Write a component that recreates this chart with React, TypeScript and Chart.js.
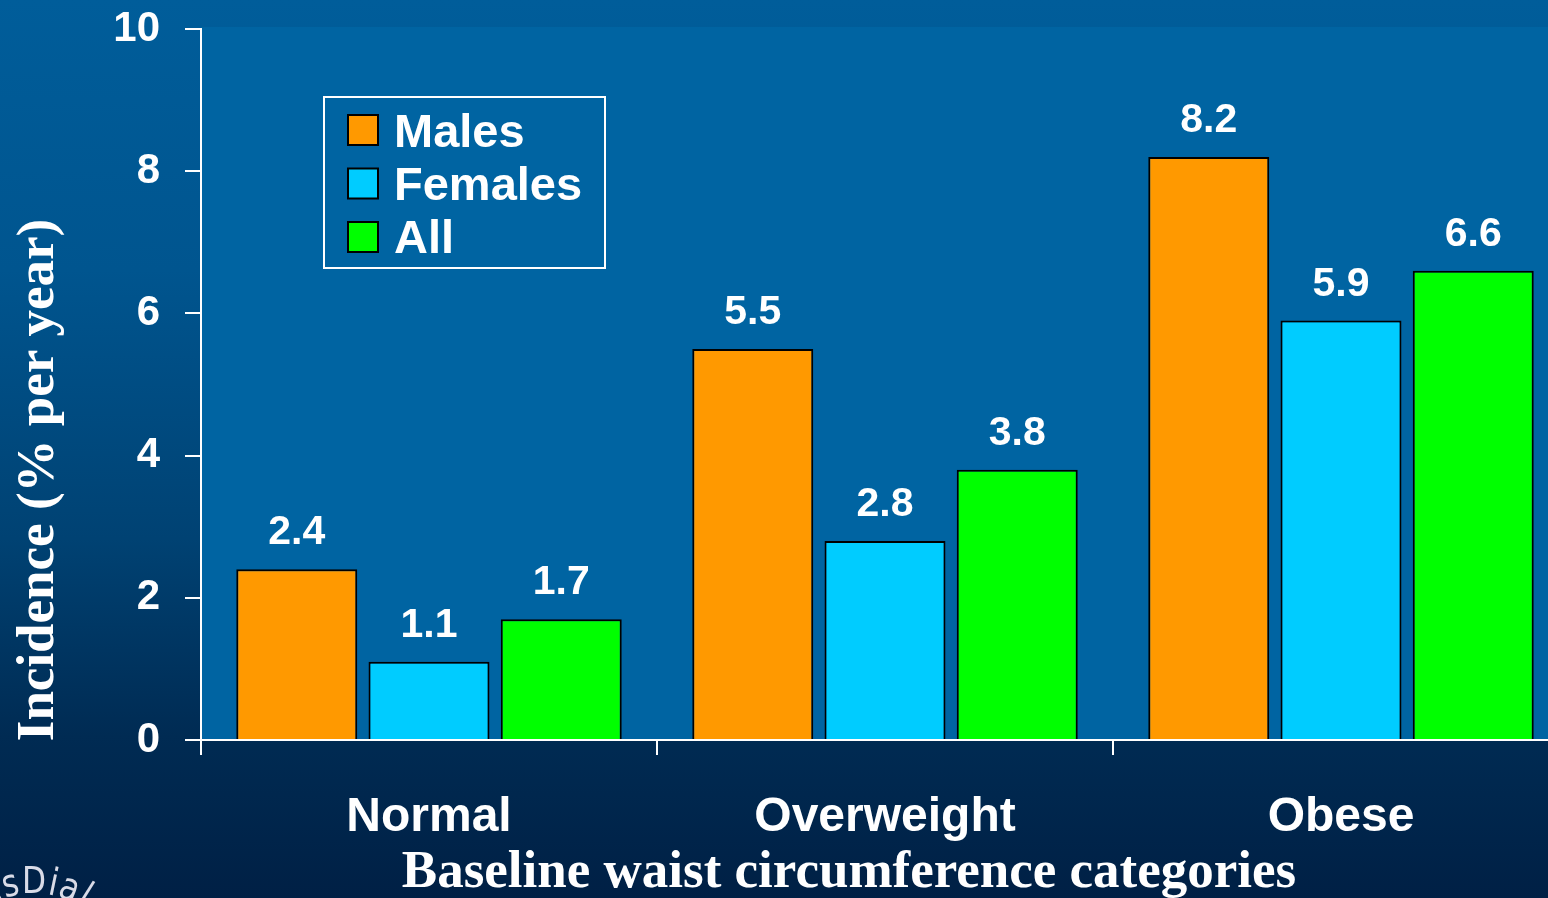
import React, { useEffect, useRef } from "react";
import { Chart, registerables } from "chart.js";

Chart.register(...registerables);

// Incidence (% per year) by baseline waist circumference category
const categories = ["Normal", "Overweight", "Obese"];
const seriesNames = ["Males", "Females", "All"];
const malesValues = [2.4, 5.5, 8.2];
const femalesValues = [1.1, 2.8, 5.9];
const allValues = [1.7, 3.8, 6.6];
const seriesColors = ["#ff9900", "#00ccff", "#00ff00"];
const yMin = 0;
const yMax = 10;
const yStep = 2;
const yTitle = "Incidence (% per year)";
const xTitle = "Baseline waist circumference categories";
const watermark = "asDial";

const SANS = "'Liberation Sans', Arial, sans-serif";
const SERIF = "'Liberation Serif', 'Times New Roman', serif";

const CANVAS_W = 1600;
const CANVAS_H = 898;

// Slide background, plot panel fill
const backgroundPlugin = {
  id: "slideBackground",
  beforeDraw(chart: any) {
    const { ctx, chartArea } = chart;
    ctx.save();
    const g = ctx.createLinearGradient(0, 0, 0, CANVAS_H);
    g.addColorStop(0, "#005d9a");
    g.addColorStop(0.3, "#00558f");
    g.addColorStop(0.6, "#004273");
    g.addColorStop(0.82, "#002b53");
    g.addColorStop(1, "#002045");
    ctx.fillStyle = g;
    ctx.fillRect(0, 0, CANVAS_W, CANVAS_H);
    ctx.fillStyle = "#0064a2";
    ctx.fillRect(
      chartArea.left,
      chartArea.top - 2,
      chartArea.right - chartArea.left,
      chartArea.bottom - chartArea.top + 2
    );
    ctx.restore();
  },
};

// Value labels above each bar
const valueLabelPlugin = {
  id: "valueLabels",
  afterDatasetsDraw(chart: any) {
    const { ctx } = chart;
    ctx.save();
    ctx.fillStyle = "#ffffff";
    ctx.font = `bold 41px ${SANS}`;
    ctx.textAlign = "center";
    ctx.textBaseline = "alphabetic";
    chart.data.datasets.forEach((ds: any, i: number) => {
      const meta = chart.getDatasetMeta(i);
      meta.data.forEach((bar: any, j: number) => {
        ctx.fillText(ds.data[j].toFixed(1), bar.x, bar.y - 25);
      });
    });
    ctx.restore();
  },
};

// Boxed legend inside the plot, axis titles and corner logo text
const decorPlugin = {
  id: "decor",
  afterDraw(chart: any) {
    const { ctx } = chart;
    ctx.save();

    // legend box
    ctx.strokeStyle = "#ffffff";
    ctx.lineWidth = 2;
    ctx.strokeRect(324, 97, 281, 171);
    chart.data.datasets.forEach((ds: any, i: number) => {
      const top = 115 + i * 53.5;
      ctx.fillStyle = ds.backgroundColor;
      ctx.fillRect(348, top, 30, 30);
      ctx.strokeStyle = "#000000";
      ctx.lineWidth = 2;
      ctx.strokeRect(348, top, 30, 30);
      ctx.fillStyle = "#ffffff";
      ctx.font = `bold 47px ${SANS}`;
      ctx.textAlign = "left";
      ctx.textBaseline = "alphabetic";
      ctx.fillText(ds.label, 394, 147 + i * 53);
    });

    // y axis title
    ctx.fillStyle = "#ffffff";
    ctx.font = `bold 53px ${SERIF}`;
    ctx.textAlign = "center";
    ctx.textBaseline = "alphabetic";
    ctx.save();
    ctx.translate(53, 480);
    ctx.rotate(-Math.PI / 2);
    ctx.fillText(yTitle, 0, 0);
    ctx.restore();

    // x axis title
    ctx.fillText(xTitle, 849, 887);

    // logo text on an arc, bottom-left corner
    ctx.fillStyle = "rgba(235,235,245,0.92)";
    ctx.font = `38px 'DejaVu Sans', 'Liberation Sans', sans-serif`;
    ctx.textAlign = "center";
    ctx.textBaseline = "alphabetic";
    const sx = 0.82;
    const cx = 34;
    const r = 84;
    const cy = 893 + r;
    const chars = watermark.split("");
    const widths = chars.map((c) => ctx.measureText(c).width * sx + 1);
    // 'D' centred at the top of the arc
    let s = -(widths[0] + widths[1] + widths[2] / 2);
    chars.forEach((c, k) => {
      const mid = s + widths[k] / 2;
      const th = mid / r;
      ctx.save();
      ctx.translate(cx + r * Math.sin(th), cy - r * Math.cos(th));
      ctx.rotate(th);
      ctx.scale(sx, 1);
      ctx.fillText(c, 0, 0);
      ctx.restore();
      s += widths[k];
    });

    ctx.restore();
  },
};

export default function App() {
  const canvasRef = useRef<HTMLCanvasElement | null>(null);

  useEffect(() => {
    const canvas = canvasRef.current;
    if (!canvas) return;
    const seriesValues = [malesValues, femalesValues, allValues];
    const chart = new Chart(canvas, {
      type: "bar",
      data: {
        labels: categories,
        datasets: seriesNames.map((name, i) => ({
          label: name,
          data: seriesValues[i],
          backgroundColor: seriesColors[i],
          borderColor: "#000000",
          borderWidth: 2,
          categoryPercentage: 0.87,
          barPercentage: 0.915,
        })),
      },
      options: {
        responsive: false,
        animation: false,
        devicePixelRatio: 1,
        layout: { padding: { top: 29, right: CANVAS_W - 1569, left: 0, bottom: 0 } },
        plugins: {
          legend: { display: false },
          tooltip: { enabled: false },
          title: { display: false },
        },
        scales: {
          x: {
            afterFit(scale: any) {
              scale.height = CANVAS_H - 740;
              scale.paddingLeft = 0;
              scale.paddingRight = 0;
            },
            border: { display: true, color: "#ffffff", width: 2 },
            grid: {
              offset: true,
              drawOnChartArea: false,
              drawTicks: true,
              tickLength: 15,
              color: "#ffffff",
              lineWidth: 2,
            },
            ticks: {
              color: "#ffffff",
              font: { family: SANS, size: 48, weight: "bold" },
              padding: 34,
              maxRotation: 0,
            },
          },
          y: {
            min: yMin,
            max: yMax,
            afterFit(scale: any) {
              scale.width = 201;
              scale.paddingTop = 0;
              scale.paddingBottom = 0;
            },
            border: { display: true, color: "#ffffff", width: 2 },
            grid: {
              drawOnChartArea: false,
              drawTicks: true,
              tickLength: 16,
              color: "#ffffff",
              lineWidth: 2,
            },
            ticks: {
              stepSize: yStep,
              color: "#ffffff",
              font: { family: SANS, size: 42, weight: "bold" },
              padding: 25,
            },
          },
        },
      },
      plugins: [backgroundPlugin, valueLabelPlugin, decorPlugin],
    });
    return () => chart.destroy();
  }, []);

  return (
    <div
      style={{
        position: "fixed",
        left: 0,
        top: 0,
        width: 1548,
        height: 898,
        overflow: "hidden",
        background: "#002045",
      }}
    >
      <canvas
        ref={canvasRef}
        width={CANVAS_W}
        height={CANVAS_H}
        style={{ display: "block", width: CANVAS_W, height: CANVAS_H }}
      />
    </div>
  );
}
